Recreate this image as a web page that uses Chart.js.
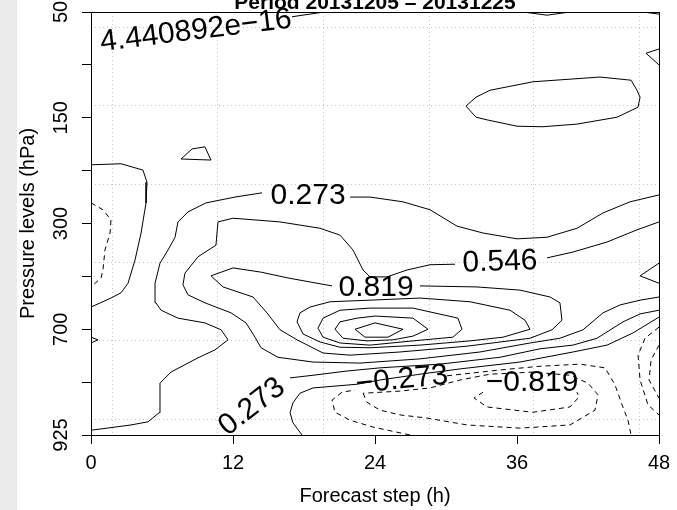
<!DOCTYPE html>
<html>
<head>
<meta charset="utf-8">
<script src="https://cdn.jsdelivr.net/npm/chart.js@4.4.1/dist/chart.umd.min.js"></script>
<style>
  html, body { margin: 0; padding: 0; background: #fff; }
  #wrap { position: relative; width: 677px; height: 510px; }
</style>
</head>
<body>
<div id="wrap"><canvas id="chart" width="677" height="510"></canvas></div>
<script>
// ------------------------------------------------------------
// Contour plot: forecast step (h) vs pressure level index.
// Contour paths are [hour, levelIndex] pairs; null breaks the
// line where R put a contour label.
// ------------------------------------------------------------

const titleText = "Period 20131205 \u2013 20131225";
const stepTicks = [0, 12, 24, 36, 48];
const levelLabels = ["50", "", "150", "", "300", "", "700", "", "925"];
const gridHours = [1.78, 10.65, 19.61, 28.57, 37.35, 46.31];
const gridLevels = [0.28, 1.76, 3.25, 4.73, 6.2, 7.7];

// zero level (labelled 4.440892e-16)
const zeroTop = [[16.99, 0.09], [19.69, 0], null, [36.51, 0], [38.54, 0.06], [40.48, 0], null, [46.65, 0], [48, 0.04]];
const zeroLeft = [[0, 2.89], [2.54, 2.87], [4.39, 2.99], [4.73, 3.22], [4.65, 3.61], [4.23, 4.18], [3.72, 4.69], [3.13, 5.13], [2.54, 5.31], [1.69, 5.41], [0, 5.58]];
const zeroWedge = [[0, 6.15], [0.59, 6.2], [0, 6.26]];
const zeroLow = [[17.83, 8], [17.07, 7.77], [16.82, 7.58], [17.07, 7.39], [17.66, 7.21], [18.76, 7.11], [22.48, 7.04], [24.42, 6.96], [27.8, 6.85], [31.18, 6.75], [36.25, 6.62], [40.73, 6.43], [43.61, 6.3], [45.8, 6.07], [48, 5.77]];

// positive levels
const posIsland = [[7.61, 2.78], [8.54, 2.59], [9.63, 2.55], [10.14, 2.8], [7.61, 2.78]];
const posOval = [[31.69, 1.78], [32.54, 1.61], [33.72, 1.48], [37.35, 1.32], [43.01, 1.23], [45.64, 1.29], [46.14, 1.48], [46.4, 1.61], [46.23, 1.8], [44.45, 1.99], [41.07, 2.12], [38.2, 2.17], [36, 2.16], [33.47, 2.04], [32.54, 1.99], [31.69, 1.78]];
const posWedgeTop = [[48, 0.7], [46.9, 0.78], [48, 1]];
const pos273 = [[0, 7.91], [3.38, 7.81], [4.82, 7.75], [5.75, 7.58], [5.83, 7.02], [6.76, 6.81], [9.04, 6.54], [10.48, 6.39], [11.58, 6.2], [10.99, 6.01], [9.63, 5.88], [7.35, 5.79], [5.92, 5.64], [5.49, 5.5], [5.41, 5.13], [5.83, 4.75], [6.51, 4.5], [7.1, 4.26], [7.35, 3.97], [8.2, 3.78], [9.72, 3.61], [12.17, 3.5], [14.45, 3.42], null, [21.89, 3.5], [23.58, 3.5], [26.37, 3.59], [28.65, 3.74], [30.93, 4.05], [33.13, 4.18], [36, 4.29], [38.54, 4.26], [41.07, 4.09], [43.27, 3.8], [45.55, 3.59], [48, 3.46]];
const pos273Low = [[16.82, 6.92], [18.76, 6.87], [21.63, 6.79], [24.42, 6.73], [29.49, 6.66], [34.56, 6.53], [37.94, 6.37], [40.73, 6.3], [42.76, 6.17], [44.96, 5.86], [46.4, 5.71], [48, 5.64]];
const pos546 = [[48, 3.97], [46.14, 4.12], [43.61, 4.35], [40.73, 4.54], [38.54, 4.65], null, [30.76, 4.77], [28.65, 4.78], [26.7, 4.88], [25.01, 5.01], [23.58, 5.01], [22.99, 4.88], [22.14, 4.5], [21.04, 4.22], [19.35, 4.09], [15.97, 3.97], [12, 3.9], [10.73, 3.97], [10.56, 4.41], [9.04, 4.63], [7.94, 4.94], [7.77, 5.16], [8.2, 5.35], [9.63, 5.5], [11.83, 5.69], [13.1, 5.88], [13.86, 6.15], [14.37, 6.35], [15.8, 6.53], [18.76, 6.62], [22.73, 6.64], [27.8, 6.56], [32.87, 6.43], [37.1, 6.26], [39.63, 6.17], [41.58, 6.01], [43.27, 5.69], [44.71, 5.54], [46.4, 5.45], [48, 5.39]];
const pos819 = [[10.14, 4.99], [12, 4.84], [14.37, 4.92], [16.65, 5.03], [19.1, 5.13], [20.37, 5.18], null, [27.8, 5.18], [32.62, 5.2], [36.25, 5.26], [38.79, 5.39], [39.63, 5.5], [39.8, 5.83], [38.96, 6.01], [37.1, 6.17], [31.78, 6.32], [26.11, 6.43], [21.89, 6.49], [19.61, 6.45], [17.41, 6.2], [15.97, 6.01], [14.87, 5.69], [13.69, 5.39], [11.16, 5.2], [10.14, 4.99]];
const pos819Edge = [[48, 4.75], [46.4, 4.99], [48, 5.13]];
const pos1092 = [[17.41, 5.86], [17.66, 5.69], [18.51, 5.58], [20.2, 5.48], [23.58, 5.45], [27.8, 5.41], [32.03, 5.48], [35.41, 5.64], [36.68, 5.83], [37.1, 6], [34.82, 6.15], [32.03, 6.22], [27.8, 6.3], [23.58, 6.35], [21.04, 6.34], [19.35, 6.24], [17.92, 6.09], [17.41, 5.86]];
const pos1365 = [[19.18, 5.98], [19.61, 5.79], [21.04, 5.64], [23.58, 5.6], [27.21, 5.6], [31.01, 5.79], [31.35, 6], [30.59, 6.15], [27.21, 6.22], [23.58, 6.3], [21.04, 6.26], [19.61, 6.15], [19.18, 5.98]];
const pos1638 = [[20.62, 6], [21.04, 5.86], [22.48, 5.79], [24, 5.75], [27.21, 5.79], [28.48, 6], [27.21, 6.13], [25.52, 6.2], [23.32, 6.22], [21.3, 6.17], [20.62, 6]];
const pos1911 = [[22.31, 6], [24, 5.88], [26.37, 6], [25.1, 6.15], [23.16, 6.15], [22.31, 6]];

// negative levels (dashed)
const negLeft = [[0, 3.61], [1.01, 3.74], [1.69, 3.93], [1.61, 4.18], [1.18, 4.5], [1.01, 4.88], [0.85, 5.03], [0, 5.2]];
const neg273 = [[26.96, 8], [23.83, 7.85], [21.89, 7.72], [20.62, 7.57], [20.37, 7.34], [21.21, 7.19], [22.31, 7.15], null, [30.09, 6.88], [34.56, 6.77], [37.94, 6.7], [41.32, 6.66], [43.44, 6.73], [44.28, 7.05], [44.88, 7.43], [45.38, 7.72], [45.64, 8]];
const neg273Edge = [[48, 5.96], [46.82, 6.17], [46.23, 6.49], [46.4, 6.96], [47.07, 7.43], [48, 7.62]];
const neg546 = [[22.99, 7.21], [23.32, 7.38], [24.42, 7.53], [26.11, 7.62], [28.4, 7.68], [31.78, 7.81], [36.25, 7.87], [40.48, 7.81], [42.59, 7.53], [42.85, 7.24], [42, 7.02], [40.48, 6.87], [37.35, 6.81], [33.72, 6.85], [31.18, 6.96], [28.65, 7.11], [26.11, 7.17], [22.99, 7.21]];
const neg546Edge = [[48, 6.3], [47.33, 6.58], [47.16, 6.96], [48, 7.3]];
const neg819 = [[33.13, 7.19], [32.37, 7.3], [33.47, 7.47], [37.35, 7.57], [40.48, 7.47], [41.24, 7.28], [41.07, 7.19]];

// contour labels
const labelTexts = ["4.440892e\u221216", "0.273", "0.546", "0.819", "\u22120.273", "\u22120.819", "0.273"];
const labelHours = [8.87, 18.34, 34.56, 24.09, 26.28, 37.27, 13.61];
const labelLevels = [0.36, 3.48, 4.73, 5.22, 6.96, 7.02, 7.47];
const labelAngles = [-7, 0, -2, 0, -6, 0, -38];

const solidLines = [zeroTop, zeroLeft, zeroWedge, zeroLow, posIsland, posOval, posWedgeTop, pos273, pos273Low, pos546, pos819, pos819Edge, pos1092, pos1365, pos1638, pos1911];
const dashedLines = [negLeft, neg273, neg273Edge, neg546, neg546Edge, neg819];

const FONT = "'Liberation Sans', Arial, Helvetica, sans-serif";

function toPoints(path) {
  return path.map((p) => (p ? { x: p[0], y: p[1] } : { x: NaN, y: NaN }));
}

function lineDataset(path, dashed) {
  return {
    data: toPoints(path),
    showLine: true,
    borderColor: "#000",
    borderWidth: 1,
    borderDash: dashed ? [5, 4] : [],
    pointRadius: 0,
    pointHoverRadius: 0,
    tension: 0,
    spanGaps: false,
    fill: false,
  };
}

const datasets = [
  ...solidLines.map((p) => lineDataset(p, false)),
  ...dashedLines.map((p) => lineDataset(p, true)),
];

const decorPlugin = {
  id: "decor",
  beforeDraw(chart) {
    const ctx = chart.ctx;
    ctx.save();
    ctx.fillStyle = "#fff";
    ctx.fillRect(0, 0, chart.width, chart.height);
    ctx.fillStyle = "#ebebeb";
    ctx.fillRect(0, 0, 17, chart.height);
    ctx.restore();
  },
  beforeDatasetsDraw(chart) {
    const { ctx, chartArea: a, scales } = chart;
    ctx.save();
    ctx.strokeStyle = "#c4c4c4";
    ctx.lineWidth = 1;
    ctx.setLineDash([1, 3]);
    gridHours.forEach((h) => {
      const x = Math.round(scales.x.getPixelForValue(h)) + 0.5;
      ctx.beginPath();
      ctx.moveTo(x, a.top);
      ctx.lineTo(x, a.bottom);
      ctx.stroke();
    });
    gridLevels.forEach((l) => {
      const y = Math.round(scales.y.getPixelForValue(l)) + 0.5;
      ctx.beginPath();
      ctx.moveTo(a.left, y);
      ctx.lineTo(a.right, y);
      ctx.stroke();
    });
    ctx.restore();
  },
  afterDatasetsDraw(chart) {
    const { ctx, chartArea: a, scales } = chart;
    ctx.save();
    // contour labels
    ctx.fillStyle = "#000";
    ctx.font = "30px " + FONT;
    ctx.textAlign = "center";
    ctx.textBaseline = "middle";
    labelTexts.forEach((t, i) => {
      ctx.save();
      ctx.translate(scales.x.getPixelForValue(labelHours[i]), scales.y.getPixelForValue(labelLevels[i]));
      ctx.rotate((labelAngles[i] * Math.PI) / 180);
      ctx.fillText(t, 0, 0);
      ctx.restore();
    });
    // box
    ctx.strokeStyle = "#000";
    ctx.lineWidth = 1;
    ctx.strokeRect(Math.round(a.left) + 0.5, Math.round(a.top) + 0.5, Math.round(a.right - a.left), Math.round(a.bottom - a.top));
    // title (clipped at the top as in the source image)
    ctx.font = "bold 21px " + FONT;
    ctx.textAlign = "center";
    ctx.textBaseline = "alphabetic";
    ctx.fillText(titleText, (a.left + a.right) / 2, 9);
    ctx.restore();
  },
};

new Chart(document.getElementById("chart"), {
  type: "scatter",
  data: { datasets },
  options: {
    responsive: false,
    devicePixelRatio: 1,
    animation: false,
    layout: { padding: { left: 0, right: 18, top: 12, bottom: 0 } },
    plugins: { legend: { display: false }, tooltip: { enabled: false } },
    scales: {
      x: {
        type: "linear",
        min: 0,
        max: 48,
        afterBuildTicks: (s) => { s.ticks = stepTicks.map((v) => ({ value: v })); },
        afterFit: (s) => { s.height = 75; s.paddingLeft = 0; s.paddingRight = 0; },
        ticks: { color: "#000", font: { family: FONT, size: 20 }, padding: 7, maxRotation: 0 },
        grid: { drawOnChartArea: false, drawTicks: true, tickLength: 9, color: "#000" },
        border: { display: true, color: "#000" },
        title: { display: true, text: "Forecast step (h)", color: "#000", font: { family: FONT, size: 20 }, padding: { top: 0, bottom: 2 } },
      },
      y: {
        type: "linear",
        min: 0,
        max: 8,
        reverse: true,
        afterBuildTicks: (s) => { s.ticks = levelLabels.map((_, i) => ({ value: i })); },
        afterFit: (s) => { s.width = 91; s.paddingTop = 0; s.paddingBottom = 0; },
        ticks: {
          color: "#000",
          font: { family: FONT, size: 20 },
          callback: (v) => levelLabels[v] || "",
          minRotation: 90,
          maxRotation: 90,
          crossAlign: "center",
          padding: 4,
        },
        grid: { drawOnChartArea: false, drawTicks: true, tickLength: 9, color: "#000" },
        border: { display: true, color: "#000" },
        title: { display: true, text: "Pressure levels (hPa)", color: "#000", font: { family: FONT, size: 20 }, padding: { top: 16, bottom: 0 } },
      },
    },
  },
  plugins: [decorPlugin],
});
</script>
</body>
</html>
